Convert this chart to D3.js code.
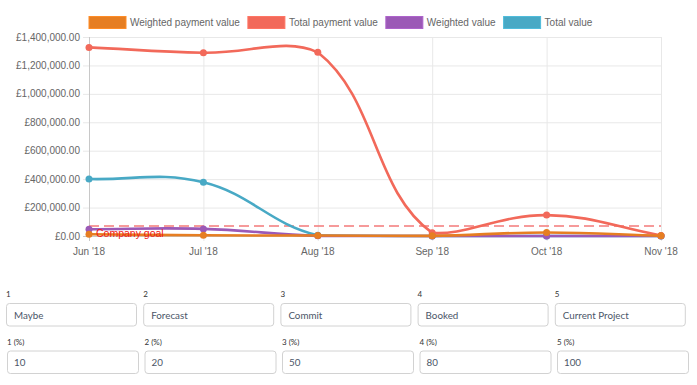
<!DOCTYPE html>
<html>
<head>
<meta charset="utf-8">
<script src="https://d3js.org/d3.v7.min.js"></script>
<style>
  body { margin: 0; background: #fff; }
  svg { display: block; }
  .tick-label { font-family: "Liberation Sans", Arial, sans-serif; font-size: 10px; fill: #666; }
  .form-label { font-family: Lato, "Open Sans", sans-serif; font-size: 8px; fill: #333; }
  .form-value { font-family: Lato, "Open Sans", sans-serif; font-size: 9.8px; fill: #4b5668; }
</style>
</head>
<body>
<div id="chart"></div>
<script>
  // chart data
  var months = ["Jun '18", "Jul '18", "Aug '18", "Sep '18", "Oct '18", "Nov '18"];
  var weightedPayment = [12000, 5000, 3000, 1000, 25000, 1000];
  var totalPayment = [1327000, 1289000, 1292000, 22000, 147000, 4000];
  var weightedValue = [48000, 50000, 1000, 0, 0, 0];
  var totalValue = [401000, 378000, 5000, 0, 0, 0];
  var companyGoal = 70000;
  var yTicks = [0, 200000, 400000, 600000, 800000, 1000000, 1200000, 1400000];

  // form data
  var stageNames = ["Maybe", "Forecast", "Commit", "Booked", "Current Project"];
  var stagePercents = [10, 20, 50, 80, 100];

  var series = [
    {name: "Weighted payment value", color: "#e67e22", values: weightedPayment},
    {name: "Total payment value", color: "#f2695a", values: totalPayment},
    {name: "Weighted value", color: "#9b59b6", values: weightedValue},
    {name: "Total value", color: "#48a9c5", values: totalValue}
  ];

  var W = 697, H = 385,
    area = {left: 89, right: 661, top: 37, bottom: 236};

  var svg = d3.select("#chart").append("svg").attr("width", W).attr("height", H);

  var x = d3.scalePoint().domain(months).range([area.left, area.right]);
  var y = d3.scaleLinear().domain([0, 1400000]).range([area.bottom, area.top]);
  var fmt = function (v) { return "£" + d3.format(",.2f")(v); };

  // grid
  var grid = svg.append("g");
  grid.selectAll(".hg").data(yTicks).enter().append("line")
    .attr("x1", area.left - 6).attr("x2", area.right)
    .attr("y1", function (d) { return y(d) + 0.5; }).attr("y2", function (d) { return y(d) + 0.5; })
    .attr("stroke", function (d) { return d === 0 ? "#c8c8c8" : "#e8e8e8"; });
  grid.selectAll(".vg").data(months).enter().append("line")
    .attr("x1", function (d) { return x(d) + 0.5; }).attr("x2", function (d) { return x(d) + 0.5; })
    .attr("y1", area.top).attr("y2", area.bottom + 5)
    .attr("stroke", function (d, i) { return i === 0 ? "#c8c8c8" : "#e8e8e8"; });

  svg.append("g").selectAll("text").data(yTicks).enter().append("text")
    .attr("class", "tick-label").attr("text-anchor", "end")
    .attr("x", area.left - 9).attr("y", function (d) { return y(d) + 3.5; })
    .text(fmt);
  svg.append("g").selectAll("text").data(months).enter().append("text")
    .attr("class", "tick-label").attr("text-anchor", "middle")
    .attr("x", function (d) { return x(d); }).attr("y", area.bottom + 19)
    .text(function (d) { return d; });

  // company goal
  svg.append("line")
    .attr("x1", area.left).attr("x2", area.right)
    .attr("y1", y(companyGoal)).attr("y2", y(companyGoal))
    .attr("stroke", "#f47a7a").attr("stroke-width", 1.5).attr("stroke-dasharray", "10,5");

  // chart.js style spline (tension 0.4, capped to area)
  function splinePath(pts) {
    var t = 0.4, cps = [];
    for (var i = 0; i < pts.length; i++) {
      var prev = pts[Math.max(0, i - 1)], cur = pts[i], next = pts[Math.min(pts.length - 1, i + 1)];
      var d01 = Math.hypot(cur[0] - prev[0], cur[1] - prev[1]);
      var d12 = Math.hypot(next[0] - cur[0], next[1] - cur[1]);
      var s01 = d01 / (d01 + d12 || 1), s12 = d12 / (d01 + d12 || 1);
      var fa = t * s01, fb = t * s12;
      var cp = {
        px: cur[0] - fa * (next[0] - prev[0]), py: cur[1] - fa * (next[1] - prev[1]),
        nx: cur[0] + fb * (next[0] - prev[0]), ny: cur[1] + fb * (next[1] - prev[1])
      };
      ["py", "ny"].forEach(function (k) { cp[k] = Math.max(area.top, Math.min(area.bottom, cp[k])); });
      cps.push(cp);
    }
    var p = d3.path();
    p.moveTo(pts[0][0], pts[0][1]);
    for (var j = 1; j < pts.length; j++) {
      p.bezierCurveTo(cps[j - 1].nx, cps[j - 1].ny, cps[j].px, cps[j].py, pts[j][0], pts[j][1]);
    }
    return p.toString();
  }

  // draw in reverse so the first dataset is on top
  var lines = svg.append("g");
  series.slice().reverse().forEach(function (s) {
    var pts = s.values.map(function (v, i) { return [x(months[i]), y(v)]; });
    var g = lines.append("g");
    g.append("path").attr("d", splinePath(pts))
      .attr("fill", "none").attr("stroke", s.color).attr("stroke-width", 2.6);
    g.selectAll("circle").data(pts).enter().append("circle")
      .attr("cx", function (d) { return d[0]; }).attr("cy", function (d) { return d[1]; })
      .attr("r", 3.5).attr("fill", s.color);
  });

  svg.append("text")
    .attr("x", area.left + 7).attr("y", y(companyGoal) + 10.5)
    .attr("font-family", "Liberation Sans, Arial, sans-serif").attr("font-size", "10.5px")
    .attr("fill", "#f01818")
    .text("Company goal");

  // legend
  var legend = svg.append("g");
  var lx = area.left;
  series.forEach(function (s) {
    legend.append("rect").attr("x", lx).attr("y", 16.5).attr("width", 37).attr("height", 12)
      .attr("fill", s.color).attr("stroke", d3.color(s.color).brighter(0.3)).attr("stroke-width", 1);
    var t = legend.append("text").attr("class", "tick-label").attr("x", lx + 41).attr("y", 26)
      .text(s.name);
    lx += 41 + t.node().getComputedTextLength() + 8;
  });

  // form fields
  var form = svg.append("g");
  stageNames.forEach(function (name, i) {
    var x1 = 6 + i * 137.2, x2 = 7 + i * 137.5;
    form.append("text").attr("class", "form-label").attr("x", x1).attr("y", 297).text(i + 1);
    form.append("rect").attr("x", x1 + 0.5).attr("y", 303.5).attr("width", 130).attr("height", 22.5)
      .attr("rx", 3).attr("fill", "#fff").attr("stroke", "#d2d2d2");
    form.append("text").attr("class", "form-value").attr("x", x1 + 8).attr("y", 318.5).text(name);

    form.append("text").attr("class", "form-label").attr("x", x2).attr("y", 345).text((i + 1) + " (%)");
    form.append("rect").attr("x", x2 + 0.5).attr("y", 351).attr("width", 131).attr("height", 22.5)
      .attr("rx", 3).attr("fill", "#fff").attr("stroke", "#d2d2d2");
    form.append("text").attr("class", "form-value").attr("x", x2 + 7).attr("y", 366).text(stagePercents[i]);
  });
</script>
</body>
</html>
